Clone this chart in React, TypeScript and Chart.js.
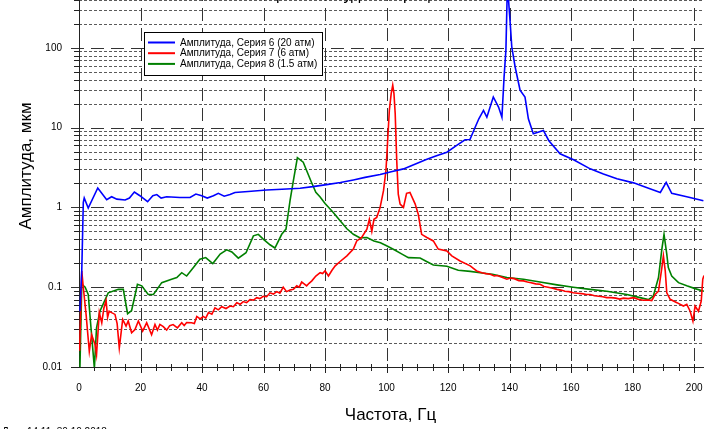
import React, { useEffect, useRef } from "react";
import { Chart, registerables } from "chart.js";
Chart.register(...registerables);

// ---------- data ----------
const xTicks = [0, 20, 40, 60, 80, 100, 120, 140, 160, 180, 200];
const yTicks = [0.01, 0.1, 1, 10, 100, 1000];
const seriesLabels = [
  "Амплитуда, Серия 6 (20 атм)",
  "Амплитуда, Серия 7 (6 атм)",
  "Амплитуда, Серия 8 (1.5 атм)",
];
const seriesColors = ["#0000ff", "#ff0000", "#008000"];

const blueFreq = [0.3,0.9,1.4,1.7,3.0,6.1,9.0,10.6,12.3,15,16.4,18,19.8,22.3,24,25.3,26.7,28.5,32.8,36.1,38,39.9,41.7,43.7,45.3,47.2,49.1,50.7,55,61,66,71.9,76,80.5,85,89.2,93,97.9,101.5,105.5,109,112.7,116,119.6,122.8,125.5,127.1,128.8,130,131.5,132.6,134.7,136.4,137.5,138.2,138.8,139.2,139.6,140.2,140.7,141.8,143.4,145,146.1,147.7,151,152.7,156.4,160.8,166.2,170.5,174.9,180.3,184.5,189,190.9,192.7,197.6,203];
const blueAmp = [0.05,0.16,1.16,1.31,0.98,1.75,1.25,1.36,1.27,1.24,1.31,1.56,1.40,1.18,1.40,1.45,1.31,1.36,1.33,1.33,1.47,1.40,1.31,1.40,1.50,1.38,1.45,1.54,1.58,1.65,1.69,1.74,1.82,1.93,2.05,2.21,2.38,2.58,2.8,3.04,3.45,3.95,4.4,4.92,5.98,7.04,7.1,10.1,12.9,16.4,13.5,24.2,18.1,13.5,43,94,450,420,202,103,57.5,29.4,24.2,12.9,8.4,9.2,6.9,4.7,3.95,3.04,2.62,2.28,2.03,1.78,1.54,2.06,1.50,1.36,1.21];

const redFreq = [
  0.2,0.9,1.4,2.3,3.35,4.1,5.2,5.7,6.6,7.4,
  8.1,8.8,9.3,9.8,10.6,11.7,12.4,13.1,14.2,15.3,
  16,17.1,18.2,19.3,20.7,22,23.6,24.7,25.5,26.3,
  27.4,28.5,29.5,30.6,32,33.4,34.2,35,36.6,37.5,
  38.3,39.4,40.4,41.2,42.1,43.2,44.2,45.3,46.4,47.8,
  49.1,50.2,51.3,52.4,53.4,54.5,55.6,56.7,57.8,58.8,
  59.9,61,62.1,63.2,64.3,65.3,66.4,67.5,68.6,69.7,
  70.8,71.6,72.4,73.2,74,74.8,75.7,77,78.4,79.2,
  80,81.1,82.2,83.3,84.9,87.1,89.2,90.3,91.9,93.6,
  94.4,95.2,95.9,96.8,97.9,99,99.8,100.3,100.9,101.5,
  102,102.4,102.8,103.3,103.8,104.4,105.5,106.5,107.6,109.3,
  110.3,111.4,113.1,115.2,116.8,119.6,121.2,123.9,127.2,129.3,
  131,132.3,133.7,135,136,137.5,139.1,140.3,141.5,143,
  144.5,145.8,147,148.5,149.9,151.2,152.5,154,155.4,156.7,
  158,159.3,160.7,162,163.5,165,166.2,167.6,169,170.3,
  171.6,173,174.5,175.8,177,178.6,180.3,182,183.5,185,
  186.2,187.3,188.4,189.5,190,190.6,191.1,192.2,194.4,196.5,
  197.6,198.7,199.6,200.3,201.4,202.3,202.8,203.2,
];
const redAmp = [
  0.016,0.16,0.099,0.0456,0.0157,0.0254,0.0192,0.0143,0.048,0.0358,
  0.055,0.068,0.042,0.05,0.048,0.0456,0.035,0.0173,0.0395,0.0325,
  0.0377,0.0268,0.0295,0.0377,0.0282,0.0358,0.0254,0.0342,0.029,0.0342,
  0.032,0.029,0.033,0.034,0.031,0.0358,0.033,0.036,0.0358,0.035,
  0.043,0.04,0.043,0.041,0.048,0.046,0.055,0.052,0.057,0.054,
  0.058,0.057,0.064,0.061,0.066,0.064,0.07,0.069,0.074,0.072,
  0.077,0.076,0.085,0.082,0.088,0.084,0.1,0.088,0.092,0.094,
  0.104,0.1,0.116,0.11,0.104,0.112,0.12,0.138,0.152,0.148,
  0.16,0.138,0.162,0.185,0.21,0.247,0.30,0.38,0.42,0.535,
  0.71,0.50,0.71,0.75,1.0,1.62,2.9,6.3,16.5,26.7,
  34,26.7,15,3.86,1.47,1.10,1.0,1.5,1.54,1.10,
  0.82,0.46,0.42,0.38,0.30,0.285,0.247,0.213,0.185,0.16,
  0.152,0.148,0.145,0.138,0.14,0.133,0.126,0.13,0.128,0.121,
  0.12,0.116,0.114,0.11,0.109,0.102,0.1,0.097,0.094,0.092,
  0.089,0.088,0.085,0.084,0.083,0.081,0.081,0.078,0.077,0.076,
  0.074,0.074,0.073,0.071,0.073,0.072,0.074,0.07,0.0685,0.069,
  0.068,0.081,0.089,0.176,0.247,0.16,0.085,0.0705,0.064,0.058,
  0.061,0.05,0.0375,0.058,0.05,0.067,0.126,0.14,
];

const greenFreq = [0.3,0.9,2,3,3.9,5,5.7,6.8,9.5,12.8,14.4,15.8,17.1,19,20.4,22.5,24.2,26.9,30.1,31.8,33.4,35,37.2,39.3,41.2,43.5,45.9,48,49.7,51.8,54.3,56.7,58.3,59.9,62.1,63.7,65.9,67.3,68.6,69.7,71,72.9,74,75.5,77,78.4,80,82.6,84.9,87.1,89.2,91.4,93.6,95.9,98,100,102.8,105,107.1,110.9,113,115.2,119.6,123.3,127.2,130.4,134.4,139.1,144.5,149.9,155.4,160.7,166.2,171.6,178.1,182.4,185.1,186.7,188.4,189.5,190.2,191.1,191.6,192.7,194.9,197.6,200.3,203.2];
const greenAmp = [0.0097,0.109,0.1,0.081,0.031,0.0097,0.031,0.05,0.085,0.094,0.094,0.0465,0.051,0.109,0.104,0.081,0.081,0.114,0.126,0.132,0.152,0.138,0.176,0.224,0.235,0.198,0.26,0.294,0.277,0.231,0.27,0.44,0.46,0.40,0.34,0.31,0.46,0.535,1.21,2.17,4.2,3.68,2.9,2.1,1.55,1.35,1.12,0.87,0.68,0.54,0.46,0.415,0.42,0.38,0.36,0.33,0.29,0.26,0.235,0.232,0.21,0.19,0.183,0.163,0.158,0.152,0.145,0.132,0.126,0.116,0.107,0.1,0.094,0.089,0.081,0.074,0.07,0.077,0.132,0.30,0.46,0.26,0.176,0.138,0.114,0.104,0.096,0.089];

const titleText = "Спектр амплитуды вибрации";
const xTitle = "Частота, Гц";
const yTitle = "Амплитуда, мкм";
const footerText = "Дата 14:11, 30.10.2018";

// ---------- layout ----------
const W = 704;
const VIEW_H = 429;
const OFF = 92; // canvas shifted up by this much
const CANVAS_H = 531;
const AREA_TOP = 60;
const AREA_BOTTOM = 459;
const AREA_LEFT = 79;
const FONT = "'Liberation Sans', Arial, sans-serif";

const pts = (f: number[], a: number[]) => f.map((x, i) => ({ x, y: a[i] }));

const decorPlugin = {
  id: "decor",
  beforeDatasetsDraw(chart: any) {
    const { ctx, chartArea, scales } = chart;
    const { left, right, top, bottom } = chartArea;
    const xs = scales.x;
    const ys = scales.y;
    ctx.save();
    ctx.lineWidth = 1;
    // minor horizontal grid
    ctx.strokeStyle = "#5a5a5a";
    ctx.setLineDash([3, 2]);
    for (const d of [0.01, 0.1, 1, 10, 100]) {
      for (let m = 2; m <= 9; m++) {
        const py = Math.round(ys.getPixelForValue(d * m)) + 0.5;
        ctx.beginPath();
        ctx.moveTo(left, py);
        ctx.lineTo(right, py);
        ctx.stroke();
      }
    }
    // minor y ticks
    ctx.setLineDash([]);
    ctx.strokeStyle = "#222";
    for (const d of [0.01, 0.1, 1, 10, 100]) {
      for (let m = 2; m <= 9; m++) {
        const py = Math.round(ys.getPixelForValue(d * m)) + 0.5;
        ctx.beginPath();
        ctx.moveTo(left - 5, py);
        ctx.lineTo(left, py);
        ctx.stroke();
      }
    }
    // major horizontal grid
    ctx.strokeStyle = "#333";
    ctx.setLineDash([13, 7]);
    for (const v of yTicks) {
      const py = Math.round(ys.getPixelForValue(v)) + 0.5;
      ctx.beginPath();
      ctx.moveTo(left - 8, py);
      ctx.lineTo(right, py);
      ctx.stroke();
    }
    // major vertical grid
    for (const f of xTicks) {
      if (f === 0) continue;
      const px = Math.round(xs.getPixelForValue(f)) + 0.5;
      ctx.beginPath();
      ctx.moveTo(px, top);
      ctx.lineTo(px, bottom);
      ctx.stroke();
    }
    // x minor ticks every 5 Hz
    ctx.setLineDash([]);
    ctx.strokeStyle = "#222";
    for (let f = 5; f <= 200; f += 5) {
      const px = Math.round(xs.getPixelForValue(f)) + 0.5;
      const major = f % 20 === 0;
      ctx.beginPath();
      ctx.moveTo(px, bottom - 3);
      ctx.lineTo(px, bottom + (major ? 6 : 4));
      ctx.stroke();
    }
    // axes
    ctx.strokeStyle = "#222";
    ctx.beginPath();
    ctx.moveTo(left + 0.5, top);
    ctx.lineTo(left + 0.5, bottom + 1);
    ctx.stroke();
    ctx.beginPath();
    ctx.moveTo(left - 8, Math.round(bottom) + 0.5);
    ctx.lineTo(right, Math.round(bottom) + 0.5);
    ctx.stroke();
    ctx.restore();
  },
  afterDatasetsDraw(chart: any) {
    const { ctx } = chart;
    ctx.save();
    const bx = 144, by = 32 + OFF, bw = 178, bh = 43;
    ctx.fillStyle = "#fff";
    ctx.fillRect(bx, by, bw, bh);
    ctx.strokeStyle = "#000";
    ctx.lineWidth = 1;
    ctx.strokeRect(bx + 0.5, by + 0.5, bw, bh);
    ctx.font = `10px ${FONT}`;
    ctx.textBaseline = "middle";
    ctx.textAlign = "left";
    chart.data.datasets.forEach((ds: any, i: number) => {
      const ly = by + 10.5 + i * 10.7;
      ctx.strokeStyle = ds.borderColor;
      ctx.lineWidth = 2;
      ctx.beginPath();
      ctx.moveTo(bx + 4, ly);
      ctx.lineTo(bx + 31, ly);
      ctx.stroke();
      ctx.fillStyle = "#000";
      ctx.fillText(ds.label, bx + 36, ly + 0.5);
    });
    ctx.restore();
  },
  afterDraw(chart: any) {
    const { ctx } = chart;
    ctx.save();
    ctx.fillStyle = "#000";
    // title (mostly above the visible region)
    ctx.font = `16px ${FONT}`;
    ctx.textAlign = "center";
    ctx.textBaseline = "alphabetic";
    ctx.fillText(titleText, 340, OFF - 0.5);
    // x title
    ctx.font = `17px ${FONT}`;
    ctx.textBaseline = "middle";
    ctx.fillText(xTitle, 390.5, 415.5 + OFF);
    // y title
    ctx.save();
    ctx.translate(26, 166 + OFF);
    ctx.rotate(-Math.PI / 2);
    ctx.fillText(yTitle, 0, 0);
    ctx.restore();
    // footer
    ctx.font = `10px ${FONT}`;
    ctx.textAlign = "left";
    ctx.textBaseline = "top";
    ctx.fillText(footerText, 2, 427 + OFF);
    ctx.restore();
  },
};

export default function App() {
  const ref = useRef<HTMLCanvasElement | null>(null);
  useEffect(() => {
    if (!ref.current) return;
    const mk = (i: number, f: number[], a: number[]) => ({
      label: seriesLabels[i],
      data: pts(f, a),
      borderColor: seriesColors[i],
      backgroundColor: seriesColors[i],
      borderWidth: 1.6,
      pointRadius: 0,
      tension: 0,
      fill: false,
    });
    const chart = new Chart(ref.current, {
      type: "line",
      data: {
        datasets: [
          mk(0, blueFreq, blueAmp),
          mk(1, redFreq, redAmp),
          mk(2, greenFreq, greenAmp),
        ],
      },
      options: {
        animation: false,
        responsive: false,
        devicePixelRatio: 1,
        layout: { padding: { top: AREA_TOP, left: 0, right: 0, bottom: 0 } },
        plugins: { legend: { display: false }, tooltip: { enabled: false }, title: { display: false } },
        scales: {
          x: {
            type: "linear",
            min: 0,
            max: 203.2,
            grid: { display: false, drawTicks: false },
            border: { display: false },
            afterBuildTicks: (s: any) => {
              s.ticks = xTicks.map((v) => ({ value: v }));
            },
            afterFit: (s: any) => {
              s.height = CANVAS_H - AREA_BOTTOM;
              s.paddingLeft = 0;
              s.paddingRight = 0;
            },
            ticks: {
              autoSkip: false,
              maxRotation: 0,
              padding: 15,
              color: "#000",
              font: { family: FONT, size: 10 },
              callback: (v: any) => String(v),
            },
          },
          y: {
            type: "logarithmic",
            min: 0.01,
            max: 1000,
            grid: { display: false, drawTicks: false },
            border: { display: false },
            afterBuildTicks: (s: any) => {
              s.ticks = yTicks.map((v) => ({ value: v }));
            },
            afterFit: (s: any) => {
              s.width = AREA_LEFT;
              s.paddingTop = 0;
              s.paddingBottom = 0;
            },
            ticks: {
              autoSkip: false,
              padding: 17,
              color: "#000",
              font: { family: FONT, size: 10 },
              callback: (v: any) => String(v),
            },
          },
        },
      },
      plugins: [decorPlugin],
    } as any);
    return () => chart.destroy();
  }, []);
  return (
    <div
      style={{
        position: "fixed",
        left: 0,
        top: 0,
        width: W,
        height: VIEW_H,
        overflow: "hidden",
        background: "#fff",
      }}
    >
      <canvas
        ref={ref}
        width={W}
        height={CANVAS_H}
        style={{ position: "absolute", left: 0, top: -OFF, width: W, height: CANVAS_H }}
      />
    </div>
  );
}
